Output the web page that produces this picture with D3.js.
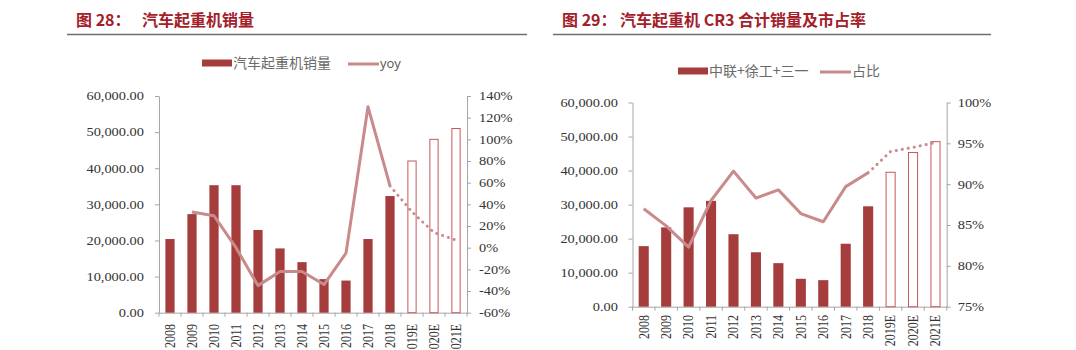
<!DOCTYPE html>
<html>
<head>
<meta charset="utf-8">
<script src="https://cdn.jsdelivr.net/npm/d3@7/dist/d3.min.js"></script>
<style>
  html, body { margin: 0; padding: 0; background: #fff; }
  svg { display: block; }
  .ttl { font-family: "Noto Sans CJK SC", sans-serif; font-weight: 700; font-size: 16px; fill: #A3202A; }
  .lg { font-family: "Noto Sans CJK SC", sans-serif; font-size: 14px; fill: #6a6a6a; }
  .lgl { font-family: "Open Sans", "Liberation Sans", sans-serif; font-size: 13px; fill: #555; }
  .ax text { font-family: "Liberation Serif", serif; font-size: 12px; fill: #333; }
</style>
</head>
<body>
<svg id="c" width="1076" height="350"></svg>
<script>
// Categories shared by both panels
const years = ["2008", "2009", "2010", "2011", "2012", "2013", "2014", "2015", "2016", "2017", "2018", "2019E", "2020E", "2021E"];
// Index of the first forecast year (drawn as hollow bars / dotted line)
const firstForecast = 11;

// Panel 1: truck crane sales and year-on-year growth (%)
const craneSales = [20400, 27300, 35300, 35300, 22900, 17800, 14000, 9300, 8900, 20400, 32300, 42000, 48000, 51000];
const craneYoy = [null, 33, 29.5, 0, -35, -22, -22, -34, -5, 130, 57, 33, 14, 7];
const craneLeftTicks = [0, 10000, 20000, 30000, 40000, 50000, 60000];
const craneRightTicks = [-60, -40, -20, 0, 20, 40, 60, 80, 100, 120, 140];

// Panel 2: CR3 (Zoomlion + XCMG + Sany) combined sales and market share (%)
const cr3Sales = [17800, 23300, 29200, 31100, 21300, 16000, 12800, 8200, 7800, 18500, 29500, 39500, 45300, 48500];
const cr3Share = [87.0, 84.9, 82.3, 88.0, 91.6, 88.3, 89.3, 86.4, 85.4, 89.7, 91.4, 94.0, 94.5, 95.1];
const cr3LeftTicks = [0, 10000, 20000, 30000, 40000, 50000, 60000];
const cr3RightTicks = [75, 80, 85, 90, 95, 100];

const BAR = "#A63D3D";
const BAR_EDGE = "#C9575A";
const LINE = "#C98A8B";
const AXIS = "#A6A6A6";
const SX = 1.2; // horizontal stretch of the chart lettering

const svg = d3.select("#c");

function header(x0, x1, num, text, textX) {
  svg.append("text").attr("class", "ttl").attr("x", x0 + 9).attr("y", 25.5).text("图 " + num + "：");
  svg.append("text").attr("class", "ttl").attr("x", textX).attr("y", 25.5).text(text);
  svg.append("line").attr("x1", x0).attr("x2", x1).attr("y1", 34.5).attr("y2", 34.5)
    .attr("stroke", "#6e6e6e").attr("stroke-width", 1.6);
}

function panel(cfg) {
  const g = svg.append("g");
  const x = d3.scaleBand().domain(years).range([cfg.left, cfg.right]).paddingInner(cfg.pad).paddingOuter(cfg.pad / 2);
  const y = d3.scaleLinear().domain([0, 60000]).range([cfg.bottom, cfg.top]);
  const y2 = d3.scaleLinear().domain(cfg.rDomain).range([cfg.bottom, cfg.top]);

  // left value axis
  const la = g.append("g").attr("class", "ax").attr("transform", `translate(${cfg.left},0)`)
    .call(d3.axisLeft(y).tickValues(cfg.lTicks).tickFormat(d3.format(",.2f")).tickSize(4).tickSizeOuter(0));
  la.select(".domain").attr("stroke", AXIS);
  la.selectAll(".tick line").attr("stroke", AXIS);
  la.selectAll(".tick text").attr("x", -cfg.lPad / SX).attr("transform", `scale(${SX},1)`);

  // right percentage axis
  const ra = g.append("g").attr("class", "ax").attr("transform", `translate(${cfg.right},0)`)
    .call(d3.axisRight(y2).tickValues(cfg.rTicks).tickFormat(d => d + "%").tickSize(4).tickSizeOuter(0));
  ra.select(".domain").attr("stroke", AXIS);
  ra.selectAll(".tick line").attr("stroke", AXIS);
  ra.selectAll(".tick text").attr("x", cfg.rPad / SX).attr("transform", `scale(${SX},1)`);

  // category axis: baseline, boundary ticks, rotated year labels
  const xa = g.append("g").attr("class", "ax").attr("transform", `translate(0,${cfg.bottom})`)
    .call(d3.axisBottom(x).tickSize(0).tickSizeOuter(0));
  xa.select(".domain").attr("stroke", AXIS);
  xa.selectAll(".tick text")
    .attr("text-anchor", "end")
    .attr("dy", null).attr("y", null)
    .attr("transform", `translate(0,${cfg.labelTop - cfg.bottom}) rotate(-90) scale(1,${SX})`)
    .attr("dominant-baseline", "central");
  const step = x.step();
  g.append("g").selectAll("line").data(d3.range(years.length + 1)).join("line")
    .attr("x1", i => cfg.left + i * step).attr("x2", i => cfg.left + i * step)
    .attr("y1", cfg.bottom).attr("y2", cfg.bottom + 4).attr("stroke", AXIS);

  // bars: actuals filled, forecasts hollow
  g.append("g").selectAll("rect").data(cfg.bars.map((v, i) => ({ v, i, c: years[i] }))).join("rect")
    .attr("x", d => x(d.c) + (d.i >= firstForecast ? 0.5 : 0))
    .attr("width", d => x.bandwidth() - (d.i >= firstForecast ? 1 : 0))
    .attr("y", d => y(d.v))
    .attr("height", d => y(0) - y(d.v))
    .attr("fill", d => d.i >= firstForecast ? "#fff" : BAR)
    .attr("stroke", d => d.i >= firstForecast ? BAR_EDGE : "none")
    .attr("stroke-width", 1);

  // ratio line: solid for actuals, dotted for forecasts
  const pts = cfg.line.map((v, i) => ({ v, i, c: years[i] }));
  const ln = d3.line().defined(d => d.v != null).x(d => x(d.c) + x.bandwidth() / 2).y(d => y2(d.v));
  g.append("path").datum(pts.filter(d => d.i <= firstForecast - 1))
    .attr("d", ln).attr("fill", "none").attr("stroke", LINE).attr("stroke-width", 3).attr("stroke-linejoin", "round");
  g.append("path").datum(pts.filter(d => d.i >= firstForecast - 1))
    .attr("d", ln).attr("fill", "none").attr("stroke", LINE).attr("stroke-width", 3)
    .attr("stroke-linecap", "round").attr("stroke-dasharray", "0.1 6");

  // legend
  const L = cfg.legend;
  g.append("rect").attr("x", L.x).attr("y", L.y - 3.5).attr("width", 30).attr("height", 7).attr("fill", BAR);
  g.append("text").attr("class", "lg").attr("x", L.x + 31).attr("y", L.y + 5).text(L.barLabel);
  g.append("line").attr("x1", L.lx).attr("x2", L.lx + 31).attr("y1", L.y + 1).attr("y2", L.y + 1)
    .attr("stroke", LINE).attr("stroke-width", 3);
  g.append("text").attr("class", L.lineCls).attr("x", L.lx + 32).attr("y", L.y + 5).text(L.lineLabel);
}

header(67, 527, "28", "汽车起重机销量", 142);
header(553, 991, "29", "汽车起重机 CR3 合计销量及市占率", 620);

panel({
  left: 159, right: 467, top: 96, bottom: 312.7, pad: 0.58,
  rDomain: [-60, 140], lTicks: craneLeftTicks, rTicks: craneRightTicks,
  lPad: 15, rPad: 12, labelTop: 324,
  bars: craneSales, line: craneYoy,
  legend: { x: 202, y: 63, lx: 348, barLabel: "汽车起重机销量", lineLabel: "yoy", lineCls: "lgl" }
});

panel({
  left: 632.5, right: 946.7, top: 102.5, bottom: 306.7, pad: 0.55,
  rDomain: [75, 100], lTicks: cr3LeftTicks, rTicks: cr3RightTicks,
  lPad: 14.5, rPad: 11, labelTop: 315,
  bars: cr3Sales, line: cr3Share,
  legend: { x: 678, y: 71, lx: 820, barLabel: "中联+徐工+三一", lineLabel: "占比", lineCls: "lg" }
});
</script>
</body>
</html>
